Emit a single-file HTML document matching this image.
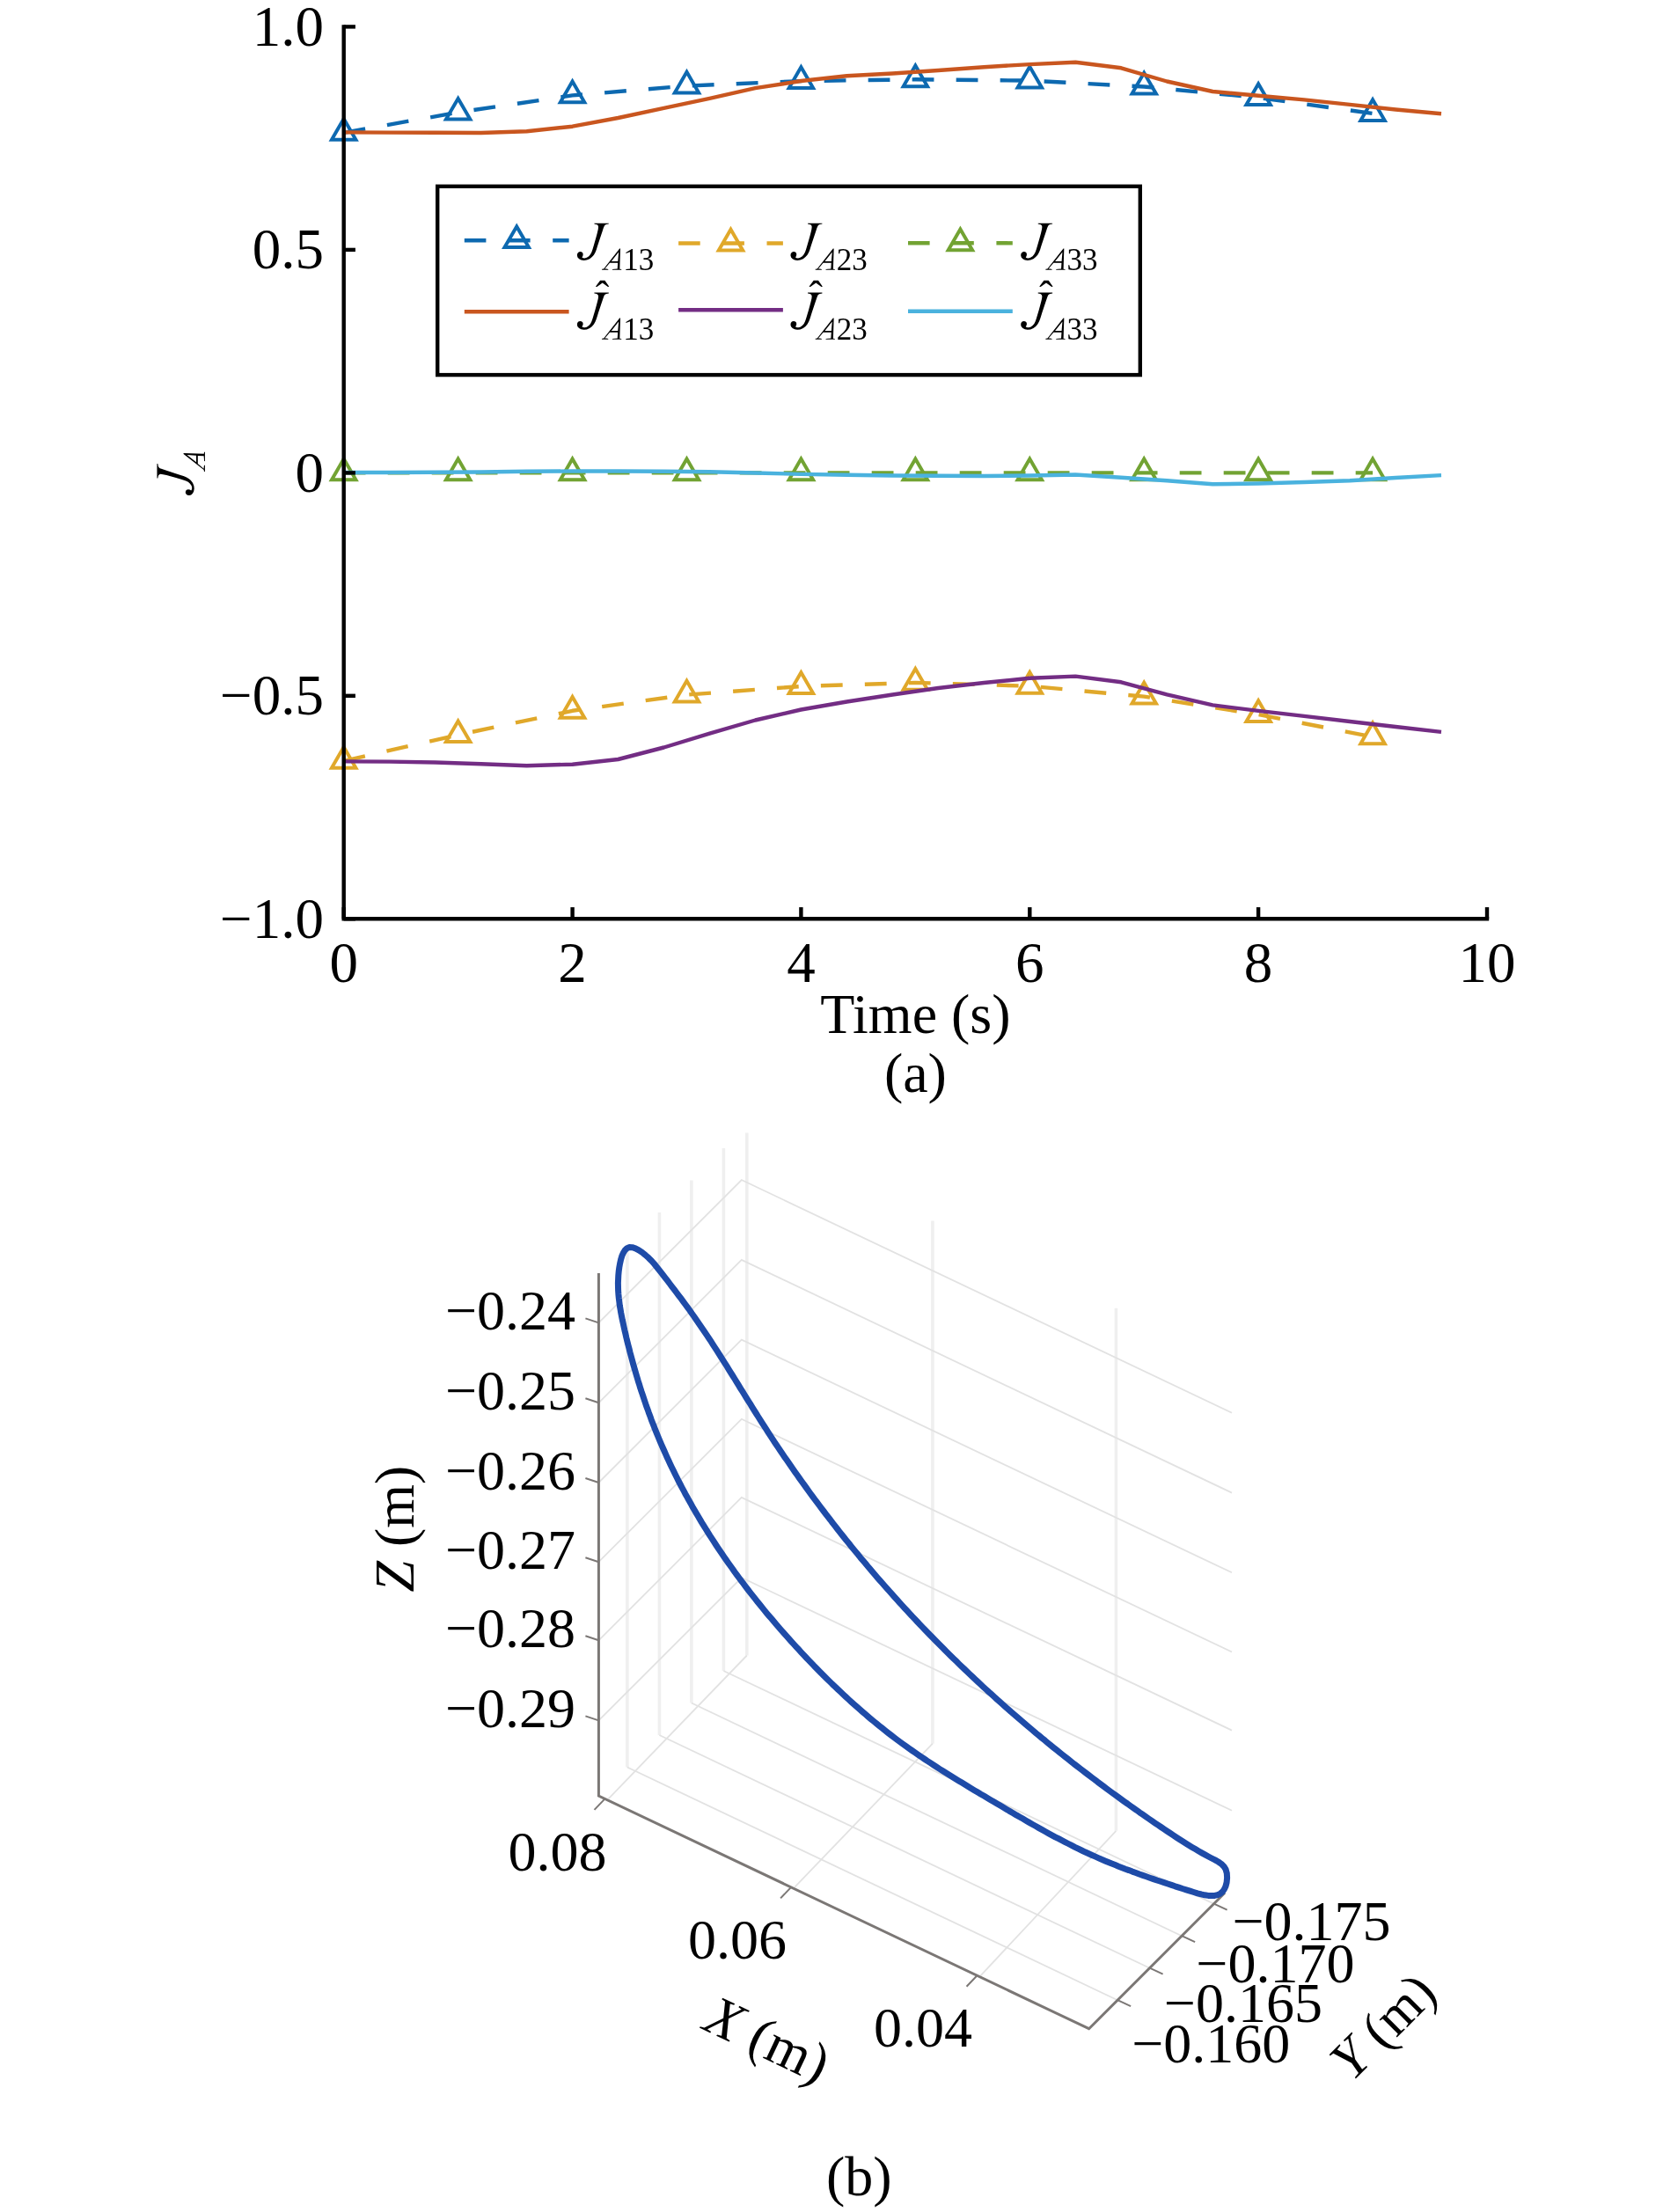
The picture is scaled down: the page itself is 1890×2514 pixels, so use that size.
<!DOCTYPE html><html><head><meta charset="utf-8"><style>html,body{margin:0;padding:0;background:#fff}svg{display:block;will-change:transform}text{font-family:"Liberation Serif",serif;fill:#000;-webkit-font-smoothing:antialiased}.it{font-style:italic}</style></head><body>
<svg width="1890" height="2514" viewBox="0 0 1890 2514">
<polyline points="390.7,150.8 520.6,127.7 650.6,108.4 780.5,97.6 910.4,92.1 1040.4,90.3 1170.3,91.6 1300.2,98.5 1430.1,111.0 1560.1,129.0" fill="none" stroke="#0D69B0" stroke-width="4.4" stroke-dasharray="24.8 25.2" stroke-linejoin="round"/>
<path d="M390.70 135.00L377.00 158.70L404.40 158.70Z" fill="none" stroke="#0D69B0" stroke-width="4.0" stroke-linejoin="miter" stroke-miterlimit="10"/>
<path d="M520.63 111.90L506.93 135.60L534.33 135.60Z" fill="none" stroke="#0D69B0" stroke-width="4.0" stroke-linejoin="miter" stroke-miterlimit="10"/>
<path d="M650.56 92.60L636.86 116.30L664.26 116.30Z" fill="none" stroke="#0D69B0" stroke-width="4.0" stroke-linejoin="miter" stroke-miterlimit="10"/>
<path d="M780.49 81.80L766.79 105.50L794.19 105.50Z" fill="none" stroke="#0D69B0" stroke-width="4.0" stroke-linejoin="miter" stroke-miterlimit="10"/>
<path d="M910.42 76.30L896.72 100.00L924.12 100.00Z" fill="none" stroke="#0D69B0" stroke-width="4.0" stroke-linejoin="miter" stroke-miterlimit="10"/>
<path d="M1040.35 74.50L1026.65 98.20L1054.05 98.20Z" fill="none" stroke="#0D69B0" stroke-width="4.0" stroke-linejoin="miter" stroke-miterlimit="10"/>
<path d="M1170.28 75.80L1156.58 99.50L1183.98 99.50Z" fill="none" stroke="#0D69B0" stroke-width="4.0" stroke-linejoin="miter" stroke-miterlimit="10"/>
<path d="M1300.21 82.70L1286.51 106.40L1313.91 106.40Z" fill="none" stroke="#0D69B0" stroke-width="4.0" stroke-linejoin="miter" stroke-miterlimit="10"/>
<path d="M1430.14 95.20L1416.44 118.90L1443.84 118.90Z" fill="none" stroke="#0D69B0" stroke-width="4.0" stroke-linejoin="miter" stroke-miterlimit="10"/>
<path d="M1560.07 113.20L1546.37 136.90L1573.77 136.90Z" fill="none" stroke="#0D69B0" stroke-width="4.0" stroke-linejoin="miter" stroke-miterlimit="10"/>
<polyline points="390.7,864.8 520.6,835.2 650.6,807.8 780.5,789.6 910.4,780.0 1040.4,775.9 1170.3,779.8 1300.2,791.6 1430.1,812.1 1560.1,837.4" fill="none" stroke="#E0A82A" stroke-width="4.4" stroke-dasharray="24.8 25.2" stroke-linejoin="round"/>
<path d="M390.70 849.00L377.00 872.70L404.40 872.70Z" fill="none" stroke="#E0A82A" stroke-width="4.0" stroke-linejoin="miter" stroke-miterlimit="10"/>
<path d="M520.63 819.40L506.93 843.10L534.33 843.10Z" fill="none" stroke="#E0A82A" stroke-width="4.0" stroke-linejoin="miter" stroke-miterlimit="10"/>
<path d="M650.56 792.00L636.86 815.70L664.26 815.70Z" fill="none" stroke="#E0A82A" stroke-width="4.0" stroke-linejoin="miter" stroke-miterlimit="10"/>
<path d="M780.49 773.80L766.79 797.50L794.19 797.50Z" fill="none" stroke="#E0A82A" stroke-width="4.0" stroke-linejoin="miter" stroke-miterlimit="10"/>
<path d="M910.42 764.20L896.72 787.90L924.12 787.90Z" fill="none" stroke="#E0A82A" stroke-width="4.0" stroke-linejoin="miter" stroke-miterlimit="10"/>
<path d="M1040.35 760.10L1026.65 783.80L1054.05 783.80Z" fill="none" stroke="#E0A82A" stroke-width="4.0" stroke-linejoin="miter" stroke-miterlimit="10"/>
<path d="M1170.28 764.00L1156.58 787.70L1183.98 787.70Z" fill="none" stroke="#E0A82A" stroke-width="4.0" stroke-linejoin="miter" stroke-miterlimit="10"/>
<path d="M1300.21 775.80L1286.51 799.50L1313.91 799.50Z" fill="none" stroke="#E0A82A" stroke-width="4.0" stroke-linejoin="miter" stroke-miterlimit="10"/>
<path d="M1430.14 796.30L1416.44 820.00L1443.84 820.00Z" fill="none" stroke="#E0A82A" stroke-width="4.0" stroke-linejoin="miter" stroke-miterlimit="10"/>
<path d="M1560.07 821.60L1546.37 845.30L1573.77 845.30Z" fill="none" stroke="#E0A82A" stroke-width="4.0" stroke-linejoin="miter" stroke-miterlimit="10"/>
<polyline points="390.7,537.4 520.6,537.4 650.6,537.4 780.5,537.4 910.4,537.4 1040.4,537.4 1170.3,537.4 1300.2,537.4 1430.1,537.4 1560.1,537.4" fill="none" stroke="#72A333" stroke-width="4.4" stroke-dasharray="24.8 25.2" stroke-linejoin="round"/>
<path d="M390.70 521.60L377.00 545.30L404.40 545.30Z" fill="none" stroke="#72A333" stroke-width="4.0" stroke-linejoin="miter" stroke-miterlimit="10"/>
<path d="M520.63 521.60L506.93 545.30L534.33 545.30Z" fill="none" stroke="#72A333" stroke-width="4.0" stroke-linejoin="miter" stroke-miterlimit="10"/>
<path d="M650.56 521.60L636.86 545.30L664.26 545.30Z" fill="none" stroke="#72A333" stroke-width="4.0" stroke-linejoin="miter" stroke-miterlimit="10"/>
<path d="M780.49 521.60L766.79 545.30L794.19 545.30Z" fill="none" stroke="#72A333" stroke-width="4.0" stroke-linejoin="miter" stroke-miterlimit="10"/>
<path d="M910.42 521.60L896.72 545.30L924.12 545.30Z" fill="none" stroke="#72A333" stroke-width="4.0" stroke-linejoin="miter" stroke-miterlimit="10"/>
<path d="M1040.35 521.60L1026.65 545.30L1054.05 545.30Z" fill="none" stroke="#72A333" stroke-width="4.0" stroke-linejoin="miter" stroke-miterlimit="10"/>
<path d="M1170.28 521.60L1156.58 545.30L1183.98 545.30Z" fill="none" stroke="#72A333" stroke-width="4.0" stroke-linejoin="miter" stroke-miterlimit="10"/>
<path d="M1300.21 521.60L1286.51 545.30L1313.91 545.30Z" fill="none" stroke="#72A333" stroke-width="4.0" stroke-linejoin="miter" stroke-miterlimit="10"/>
<path d="M1430.14 521.60L1416.44 545.30L1443.84 545.30Z" fill="none" stroke="#72A333" stroke-width="4.0" stroke-linejoin="miter" stroke-miterlimit="10"/>
<path d="M1560.07 521.60L1546.37 545.30L1573.77 545.30Z" fill="none" stroke="#72A333" stroke-width="4.0" stroke-linejoin="miter" stroke-miterlimit="10"/>
<polyline points="390.7,150.4 442.7,150.6 494.6,150.8 546.6,151.0 598.6,149.2 650.6,143.7 702.5,134.0 754.5,122.8 806.5,111.8 858.4,100.2 910.4,92.0 962.4,86.2 1014.4,83.5 1066.3,80.0 1118.3,76.2 1170.3,73.1 1222.3,70.8 1274.2,77.3 1326.2,92.5 1378.2,104.0 1430.1,108.8 1482.1,113.4 1534.1,118.9 1586.1,124.5 1638.0,129.3" fill="none" stroke="#C9561F" stroke-width="4.4" stroke-linejoin="round"/>
<polyline points="390.7,865.4 442.7,865.6 494.6,866.5 546.6,868.3 598.6,870.2 650.6,868.7 702.5,863.0 754.5,849.5 806.5,833.6 858.4,818.5 910.4,806.5 962.4,797.5 1014.4,789.5 1066.3,782.0 1118.3,776.0 1170.3,770.8 1222.3,768.6 1274.2,775.3 1326.2,789.3 1378.2,801.4 1430.1,807.9 1482.1,813.9 1534.1,820.0 1586.1,826.0 1638.0,831.9" fill="none" stroke="#732D84" stroke-width="4.4" stroke-linejoin="round"/>
<polyline points="390.7,537.0 442.7,537.0 494.6,536.8 546.6,536.5 598.6,535.8 650.6,535.5 702.5,535.5 754.5,535.8 806.5,536.3 858.4,537.5 910.4,538.9 962.4,539.7 1014.4,540.5 1066.3,540.8 1118.3,541.0 1170.3,540.5 1222.3,539.5 1274.2,542.8 1326.2,546.3 1378.2,550.3 1430.1,549.5 1482.1,548.0 1534.1,546.2 1586.1,543.0 1638.0,540.1" fill="none" stroke="#4AB2DE" stroke-width="4.4" stroke-linejoin="round"/>
<path d="M390.7 28.2V1044.3H1692.2" fill="none" stroke="#000" stroke-width="4.4" stroke-linejoin="miter"/>
<line x1="390.7" y1="30.4" x2="403.9" y2="30.4" stroke="#000" stroke-width="4.4"/>
<line x1="390.7" y1="283.9" x2="403.9" y2="283.9" stroke="#000" stroke-width="4.4"/>
<line x1="390.7" y1="537.4" x2="403.9" y2="537.4" stroke="#000" stroke-width="4.4"/>
<line x1="390.7" y1="790.8" x2="403.9" y2="790.8" stroke="#000" stroke-width="4.4"/>
<line x1="390.7" y1="1044.3" x2="403.9" y2="1044.3" stroke="#000" stroke-width="4.4"/>
<line x1="390.7" y1="1044.3" x2="390.7" y2="1031.1" stroke="#000" stroke-width="4.4"/>
<line x1="650.6" y1="1044.3" x2="650.6" y2="1031.1" stroke="#000" stroke-width="4.4"/>
<line x1="910.4" y1="1044.3" x2="910.4" y2="1031.1" stroke="#000" stroke-width="4.4"/>
<line x1="1170.3" y1="1044.3" x2="1170.3" y2="1031.1" stroke="#000" stroke-width="4.4"/>
<line x1="1430.1" y1="1044.3" x2="1430.1" y2="1031.1" stroke="#000" stroke-width="4.4"/>
<line x1="1690.0" y1="1044.3" x2="1690.0" y2="1031.1" stroke="#000" stroke-width="4.4"/>
<text x="368" y="51.8" font-size="65" text-anchor="end">1.0</text>
<text x="368" y="305.3" font-size="65" text-anchor="end">0.5</text>
<text x="368" y="558.8" font-size="65" text-anchor="end">0</text>
<text x="368" y="812.2" font-size="65" text-anchor="end">−0.5</text>
<text x="368" y="1065.7" font-size="65" text-anchor="end">−1.0</text>
<text x="390.7" y="1116.3" font-size="65" text-anchor="middle">0</text>
<text x="650.6" y="1116.3" font-size="65" text-anchor="middle">2</text>
<text x="910.4" y="1116.3" font-size="65" text-anchor="middle">4</text>
<text x="1170.3" y="1116.3" font-size="65" text-anchor="middle">6</text>
<text x="1430.1" y="1116.3" font-size="65" text-anchor="middle">8</text>
<text x="1690.0" y="1116.3" font-size="65" text-anchor="middle">10</text>
<text x="1040.4" y="1174.2" font-size="64" text-anchor="middle">Time (s)</text>
<text x="1040.4" y="1241.3" font-size="64" text-anchor="middle">(a)</text>
<path transform="translate(178.4,563) rotate(-90)" d="M19.51 0.07 L35.89 0.07 L35.95 0.97 L33.19 1.40 L31.68 2.18 L30.84 3.32 L29.88 5.73 L28.68 9.33 L27.17 13.84 L25.67 18.35 L24.17 22.86 L22.96 26.77 L21.91 30.08 L20.71 33.09 L19.05 36.09 L16.95 38.50 L14.24 40.60 L10.94 41.95 L7.63 42.35 L4.62 41.80 L2.22 40.60 L0.56 38.80 L-0.04 36.69 L0.26 34.59 L1.47 33.09 L3.12 32.42 L4.92 32.63 L6.28 33.69 L6.79 35.49 L6.43 37.29 L5.53 38.80 L6.73 39.55 L8.53 39.85 L10.94 39.25 L13.34 37.60 L15.15 35.49 L16.50 32.78 L17.55 29.78 L18.75 25.87 L20.26 20.76 L21.76 15.35 L22.96 10.84 L23.87 6.93 L24.17 4.22 L23.72 2.72 L22.66 1.76 L21.16 1.28 L19.51 0.97Z"/>
<path fill-rule="evenodd" transform="translate(232.9,535.9) rotate(-90)" d="M-0.15 0.04 L7.07 0.04 L7.07 -0.87 L4.97 -1.29 L3.16 -1.29 L8.81 -8.08 L17.95 -8.08 L17.53 -1.29 L14.11 -0.99 L11.82 -0.87 L11.70 0.04 L22.04 0.04 L22.04 -0.87 L20.12 -1.17 L20.84 -24.32 L20.00 -24.32 L1.96 -1.29 L-0.03 -0.93Z M10.62 -9.89 L18.07 -9.89 L18.92 -20.41Z"/>
<rect x="497.2" y="211.8" width="798.6" height="214.3" fill="#fff" stroke="#000" stroke-width="4.4"/>
<line x1="527.8" y1="273.2" x2="646.6" y2="273.2" stroke="#0D69B0" stroke-width="4.4" stroke-dasharray="24.6 25.6"/>
<path d="M587.20 257.40L573.50 281.10L600.90 281.10Z" fill="none" stroke="#0D69B0" stroke-width="4.0" stroke-linejoin="miter" stroke-miterlimit="10"/>
<line x1="527.8" y1="354.3" x2="646.6" y2="354.3" stroke="#C9561F" stroke-width="4.4"/>
<path transform="translate(655.9,253.6)" d="M19.51 0.07 L35.89 0.07 L35.95 0.97 L33.19 1.40 L31.68 2.18 L30.84 3.32 L29.88 5.73 L28.68 9.33 L27.17 13.84 L25.67 18.35 L24.17 22.86 L22.96 26.77 L21.91 30.08 L20.71 33.09 L19.05 36.09 L16.95 38.50 L14.24 40.60 L10.94 41.95 L7.63 42.35 L4.62 41.80 L2.22 40.60 L0.56 38.80 L-0.04 36.69 L0.26 34.59 L1.47 33.09 L3.12 32.42 L4.92 32.63 L6.28 33.69 L6.79 35.49 L6.43 37.29 L5.53 38.80 L6.73 39.55 L8.53 39.85 L10.94 39.25 L13.34 37.60 L15.15 35.49 L16.50 32.78 L17.55 29.78 L18.75 25.87 L20.26 20.76 L21.76 15.35 L22.96 10.84 L23.87 6.93 L24.17 4.22 L23.72 2.72 L22.66 1.76 L21.16 1.28 L19.51 0.97Z"/>
<path fill-rule="evenodd" transform="translate(684.2,306.8)" d="M-0.15 0.04 L7.07 0.04 L7.07 -0.87 L4.97 -1.29 L3.16 -1.29 L8.81 -8.08 L17.95 -8.08 L17.53 -1.29 L14.11 -0.99 L11.82 -0.87 L11.70 0.04 L22.04 0.04 L22.04 -0.87 L20.12 -1.17 L20.84 -24.32 L20.00 -24.32 L1.96 -1.29 L-0.03 -0.93Z M10.62 -9.89 L18.07 -9.89 L18.92 -20.41Z"/>
<text x="708.2" y="306.8" font-size="35">13</text>
<path transform="translate(655.9,332.5)" d="M19.51 0.07 L35.89 0.07 L35.95 0.97 L33.19 1.40 L31.68 2.18 L30.84 3.32 L29.88 5.73 L28.68 9.33 L27.17 13.84 L25.67 18.35 L24.17 22.86 L22.96 26.77 L21.91 30.08 L20.71 33.09 L19.05 36.09 L16.95 38.50 L14.24 40.60 L10.94 41.95 L7.63 42.35 L4.62 41.80 L2.22 40.60 L0.56 38.80 L-0.04 36.69 L0.26 34.59 L1.47 33.09 L3.12 32.42 L4.92 32.63 L6.28 33.69 L6.79 35.49 L6.43 37.29 L5.53 38.80 L6.73 39.55 L8.53 39.85 L10.94 39.25 L13.34 37.60 L15.15 35.49 L16.50 32.78 L17.55 29.78 L18.75 25.87 L20.26 20.76 L21.76 15.35 L22.96 10.84 L23.87 6.93 L24.17 4.22 L23.72 2.72 L22.66 1.76 L21.16 1.28 L19.51 0.97Z"/>
<path transform="translate(655.9,332.5)" d="M21.0 -6.7 L26.2 -13.7 L31.5 -13.7 L36.4 -6.7 L35.0 -6.4 L28.8 -11.0 L22.5 -6.4 Z"/>
<path fill-rule="evenodd" transform="translate(684.2,385.8)" d="M-0.15 0.04 L7.07 0.04 L7.07 -0.87 L4.97 -1.29 L3.16 -1.29 L8.81 -8.08 L17.95 -8.08 L17.53 -1.29 L14.11 -0.99 L11.82 -0.87 L11.70 0.04 L22.04 0.04 L22.04 -0.87 L20.12 -1.17 L20.84 -24.32 L20.00 -24.32 L1.96 -1.29 L-0.03 -0.93Z M10.62 -9.89 L18.07 -9.89 L18.92 -20.41Z"/>
<text x="708.2" y="385.8" font-size="35">13</text>
<line x1="771.1" y1="276.5" x2="889.9" y2="276.5" stroke="#E0A82A" stroke-width="4.4" stroke-dasharray="24.6 25.6"/>
<path d="M830.50 260.70L816.80 284.40L844.20 284.40Z" fill="none" stroke="#E0A82A" stroke-width="4.0" stroke-linejoin="miter" stroke-miterlimit="10"/>
<line x1="771.1" y1="352.3" x2="889.9" y2="352.3" stroke="#732D84" stroke-width="4.4"/>
<path transform="translate(898.5,253.6)" d="M19.51 0.07 L35.89 0.07 L35.95 0.97 L33.19 1.40 L31.68 2.18 L30.84 3.32 L29.88 5.73 L28.68 9.33 L27.17 13.84 L25.67 18.35 L24.17 22.86 L22.96 26.77 L21.91 30.08 L20.71 33.09 L19.05 36.09 L16.95 38.50 L14.24 40.60 L10.94 41.95 L7.63 42.35 L4.62 41.80 L2.22 40.60 L0.56 38.80 L-0.04 36.69 L0.26 34.59 L1.47 33.09 L3.12 32.42 L4.92 32.63 L6.28 33.69 L6.79 35.49 L6.43 37.29 L5.53 38.80 L6.73 39.55 L8.53 39.85 L10.94 39.25 L13.34 37.60 L15.15 35.49 L16.50 32.78 L17.55 29.78 L18.75 25.87 L20.26 20.76 L21.76 15.35 L22.96 10.84 L23.87 6.93 L24.17 4.22 L23.72 2.72 L22.66 1.76 L21.16 1.28 L19.51 0.97Z"/>
<path fill-rule="evenodd" transform="translate(926.8,306.8)" d="M-0.15 0.04 L7.07 0.04 L7.07 -0.87 L4.97 -1.29 L3.16 -1.29 L8.81 -8.08 L17.95 -8.08 L17.53 -1.29 L14.11 -0.99 L11.82 -0.87 L11.70 0.04 L22.04 0.04 L22.04 -0.87 L20.12 -1.17 L20.84 -24.32 L20.00 -24.32 L1.96 -1.29 L-0.03 -0.93Z M10.62 -9.89 L18.07 -9.89 L18.92 -20.41Z"/>
<text x="950.8" y="306.8" font-size="35">23</text>
<path transform="translate(898.5,332.5)" d="M19.51 0.07 L35.89 0.07 L35.95 0.97 L33.19 1.40 L31.68 2.18 L30.84 3.32 L29.88 5.73 L28.68 9.33 L27.17 13.84 L25.67 18.35 L24.17 22.86 L22.96 26.77 L21.91 30.08 L20.71 33.09 L19.05 36.09 L16.95 38.50 L14.24 40.60 L10.94 41.95 L7.63 42.35 L4.62 41.80 L2.22 40.60 L0.56 38.80 L-0.04 36.69 L0.26 34.59 L1.47 33.09 L3.12 32.42 L4.92 32.63 L6.28 33.69 L6.79 35.49 L6.43 37.29 L5.53 38.80 L6.73 39.55 L8.53 39.85 L10.94 39.25 L13.34 37.60 L15.15 35.49 L16.50 32.78 L17.55 29.78 L18.75 25.87 L20.26 20.76 L21.76 15.35 L22.96 10.84 L23.87 6.93 L24.17 4.22 L23.72 2.72 L22.66 1.76 L21.16 1.28 L19.51 0.97Z"/>
<path transform="translate(898.5,332.5)" d="M21.0 -6.7 L26.2 -13.7 L31.5 -13.7 L36.4 -6.7 L35.0 -6.4 L28.8 -11.0 L22.5 -6.4 Z"/>
<path fill-rule="evenodd" transform="translate(926.8,385.8)" d="M-0.15 0.04 L7.07 0.04 L7.07 -0.87 L4.97 -1.29 L3.16 -1.29 L8.81 -8.08 L17.95 -8.08 L17.53 -1.29 L14.11 -0.99 L11.82 -0.87 L11.70 0.04 L22.04 0.04 L22.04 -0.87 L20.12 -1.17 L20.84 -24.32 L20.00 -24.32 L1.96 -1.29 L-0.03 -0.93Z M10.62 -9.89 L18.07 -9.89 L18.92 -20.41Z"/>
<text x="950.8" y="385.8" font-size="35">23</text>
<line x1="1032.0" y1="276.3" x2="1150.8" y2="276.3" stroke="#72A333" stroke-width="4.4" stroke-dasharray="24.6 25.6"/>
<path d="M1091.40 260.50L1077.70 284.20L1105.10 284.20Z" fill="none" stroke="#72A333" stroke-width="4.0" stroke-linejoin="miter" stroke-miterlimit="10"/>
<line x1="1032.0" y1="353.7" x2="1150.8" y2="353.7" stroke="#4AB2DE" stroke-width="4.4"/>
<path transform="translate(1160.2,253.6)" d="M19.51 0.07 L35.89 0.07 L35.95 0.97 L33.19 1.40 L31.68 2.18 L30.84 3.32 L29.88 5.73 L28.68 9.33 L27.17 13.84 L25.67 18.35 L24.17 22.86 L22.96 26.77 L21.91 30.08 L20.71 33.09 L19.05 36.09 L16.95 38.50 L14.24 40.60 L10.94 41.95 L7.63 42.35 L4.62 41.80 L2.22 40.60 L0.56 38.80 L-0.04 36.69 L0.26 34.59 L1.47 33.09 L3.12 32.42 L4.92 32.63 L6.28 33.69 L6.79 35.49 L6.43 37.29 L5.53 38.80 L6.73 39.55 L8.53 39.85 L10.94 39.25 L13.34 37.60 L15.15 35.49 L16.50 32.78 L17.55 29.78 L18.75 25.87 L20.26 20.76 L21.76 15.35 L22.96 10.84 L23.87 6.93 L24.17 4.22 L23.72 2.72 L22.66 1.76 L21.16 1.28 L19.51 0.97Z"/>
<path fill-rule="evenodd" transform="translate(1188.5,306.8)" d="M-0.15 0.04 L7.07 0.04 L7.07 -0.87 L4.97 -1.29 L3.16 -1.29 L8.81 -8.08 L17.95 -8.08 L17.53 -1.29 L14.11 -0.99 L11.82 -0.87 L11.70 0.04 L22.04 0.04 L22.04 -0.87 L20.12 -1.17 L20.84 -24.32 L20.00 -24.32 L1.96 -1.29 L-0.03 -0.93Z M10.62 -9.89 L18.07 -9.89 L18.92 -20.41Z"/>
<text x="1212.5" y="306.8" font-size="35">33</text>
<path transform="translate(1160.2,332.5)" d="M19.51 0.07 L35.89 0.07 L35.95 0.97 L33.19 1.40 L31.68 2.18 L30.84 3.32 L29.88 5.73 L28.68 9.33 L27.17 13.84 L25.67 18.35 L24.17 22.86 L22.96 26.77 L21.91 30.08 L20.71 33.09 L19.05 36.09 L16.95 38.50 L14.24 40.60 L10.94 41.95 L7.63 42.35 L4.62 41.80 L2.22 40.60 L0.56 38.80 L-0.04 36.69 L0.26 34.59 L1.47 33.09 L3.12 32.42 L4.92 32.63 L6.28 33.69 L6.79 35.49 L6.43 37.29 L5.53 38.80 L6.73 39.55 L8.53 39.85 L10.94 39.25 L13.34 37.60 L15.15 35.49 L16.50 32.78 L17.55 29.78 L18.75 25.87 L20.26 20.76 L21.76 15.35 L22.96 10.84 L23.87 6.93 L24.17 4.22 L23.72 2.72 L22.66 1.76 L21.16 1.28 L19.51 0.97Z"/>
<path transform="translate(1160.2,332.5)" d="M21.0 -6.7 L26.2 -13.7 L31.5 -13.7 L36.4 -6.7 L35.0 -6.4 L28.8 -11.0 L22.5 -6.4 Z"/>
<path fill-rule="evenodd" transform="translate(1188.5,385.8)" d="M-0.15 0.04 L7.07 0.04 L7.07 -0.87 L4.97 -1.29 L3.16 -1.29 L8.81 -8.08 L17.95 -8.08 L17.53 -1.29 L14.11 -0.99 L11.82 -0.87 L11.70 0.04 L22.04 0.04 L22.04 -0.87 L20.12 -1.17 L20.84 -24.32 L20.00 -24.32 L1.96 -1.29 L-0.03 -0.93Z M10.62 -9.89 L18.07 -9.89 L18.92 -20.41Z"/>
<text x="1212.5" y="385.8" font-size="35">33</text>
<line x1="712.9" y1="2008.5" x2="712.9" y2="1414.4" stroke="#efefef" stroke-width="3.6"/>
<line x1="749.4" y1="1972.0" x2="749.4" y2="1377.9" stroke="#efefef" stroke-width="3.6"/>
<line x1="785.9" y1="1935.5" x2="785.9" y2="1341.4" stroke="#efefef" stroke-width="3.6"/>
<line x1="822.4" y1="1899.0" x2="822.4" y2="1304.9" stroke="#efefef" stroke-width="3.6"/>
<line x1="848.8" y1="1881.5" x2="848.8" y2="1287.4" stroke="#efefef" stroke-width="3.6"/>
<line x1="1059.9" y1="1981.7" x2="1059.9" y2="1387.6" stroke="#efefef" stroke-width="3.6"/>
<line x1="1268.4" y1="2080.8" x2="1268.4" y2="1486.7" stroke="#efefef" stroke-width="3.6"/>
<polyline points="680.4,1503.4 842.8,1341.0 1400.0,1605.7" fill="none" stroke="#e2e2e2" stroke-width="1.8"/>
<polyline points="680.4,1594.3 842.8,1431.9 1400.0,1696.6" fill="none" stroke="#e2e2e2" stroke-width="1.8"/>
<polyline points="680.4,1685.0 842.8,1522.6 1400.0,1787.3" fill="none" stroke="#e2e2e2" stroke-width="1.8"/>
<polyline points="680.4,1775.2 842.8,1612.8 1400.0,1877.5" fill="none" stroke="#e2e2e2" stroke-width="1.8"/>
<polyline points="680.4,1864.3 842.8,1701.9 1400.0,1966.6" fill="none" stroke="#e2e2e2" stroke-width="1.8"/>
<polyline points="680.4,1955.4 842.8,1793.0 1400.0,2057.7" fill="none" stroke="#e2e2e2" stroke-width="1.8"/>
<line x1="712.9" y1="2008.5" x2="1270.1" y2="2273.2" stroke="#e2e2e2" stroke-width="1.8"/>
<line x1="749.4" y1="1972.0" x2="1306.6" y2="2236.7" stroke="#e2e2e2" stroke-width="1.8"/>
<line x1="785.9" y1="1935.5" x2="1343.1" y2="2200.2" stroke="#e2e2e2" stroke-width="1.8"/>
<line x1="822.4" y1="1899.0" x2="1379.6" y2="2163.7" stroke="#e2e2e2" stroke-width="1.8"/>
<line x1="691.5" y1="2044.4" x2="848.8" y2="1881.5" stroke="#e2e2e2" stroke-width="1.8"/>
<line x1="903.1" y1="2144.9" x2="1059.9" y2="1981.7" stroke="#e2e2e2" stroke-width="1.8"/>
<line x1="1114.5" y1="2245.3" x2="1268.4" y2="2080.8" stroke="#e2e2e2" stroke-width="1.8"/>
<path d="M680.4 1446.9V2041.0L1237.6 2305.7L1392.0 2151.3" fill="none" stroke="#7b7775" stroke-width="3" stroke-linejoin="miter"/>
<line x1="680.4" y1="1503.4" x2="665.4" y2="1498.4" stroke="#7b7775" stroke-width="2"/>
<line x1="680.4" y1="1594.3" x2="665.4" y2="1589.3" stroke="#7b7775" stroke-width="2"/>
<line x1="680.4" y1="1685.0" x2="665.4" y2="1680.0" stroke="#7b7775" stroke-width="2"/>
<line x1="680.4" y1="1775.2" x2="665.4" y2="1770.2" stroke="#7b7775" stroke-width="2"/>
<line x1="680.4" y1="1864.3" x2="665.4" y2="1859.3" stroke="#7b7775" stroke-width="2"/>
<line x1="680.4" y1="1955.4" x2="665.4" y2="1950.4" stroke="#7b7775" stroke-width="2"/>
<line x1="687.5" y1="2044.4" x2="675.5" y2="2056.9" stroke="#7b7775" stroke-width="2"/>
<line x1="899.1" y1="2144.9" x2="887.1" y2="2157.4" stroke="#7b7775" stroke-width="2"/>
<line x1="1110.5" y1="2245.3" x2="1098.5" y2="2257.8" stroke="#7b7775" stroke-width="2"/>
<line x1="1270.1" y1="2273.2" x2="1285.1" y2="2280.2" stroke="#7b7775" stroke-width="2"/>
<line x1="1306.6" y1="2236.7" x2="1321.6" y2="2243.7" stroke="#7b7775" stroke-width="2"/>
<line x1="1343.1" y1="2200.2" x2="1358.1" y2="2207.2" stroke="#7b7775" stroke-width="2"/>
<line x1="1379.6" y1="2163.7" x2="1394.6" y2="2170.7" stroke="#7b7775" stroke-width="2"/>
<polygon points="715.4,1417.6 718.6,1417.7 722.2,1418.8 726.0,1420.8 729.8,1423.4 733.6,1426.5 737.2,1429.7 740.5,1433.0 743.4,1436.3 746.0,1439.5 748.6,1442.7 751.1,1445.9 753.6,1449.2 756.1,1452.4 758.7,1455.7 761.2,1459.0 763.7,1462.3 766.3,1465.6 768.8,1469.0 771.3,1472.3 773.9,1475.7 776.4,1479.1 778.9,1482.5 781.4,1485.9 783.9,1489.3 786.3,1492.8 788.8,1496.2 791.2,1499.7 793.6,1503.2 796.0,1506.7 798.4,1510.2 800.8,1513.7 803.1,1517.2 805.5,1520.7 807.8,1524.2 810.1,1527.8 812.4,1531.3 814.7,1534.9 816.9,1538.4 819.2,1542.0 821.5,1545.6 823.7,1549.1 826.0,1552.7 828.2,1556.3 830.4,1559.9 832.7,1563.5 834.9,1567.0 837.1,1570.6 839.3,1574.2 841.5,1577.8 843.8,1581.4 846.0,1585.0 848.2,1588.6 850.4,1592.1 852.7,1595.7 854.9,1599.3 857.1,1602.9 859.4,1606.5 861.6,1610.0 863.9,1613.6 866.1,1617.1 868.4,1620.7 870.7,1624.2 873.0,1627.8 875.3,1631.3 877.6,1634.8 879.9,1638.4 882.3,1641.9 884.6,1645.4 887.0,1648.9 889.3,1652.4 891.7,1655.9 894.1,1659.3 896.5,1662.8 898.9,1666.3 901.3,1669.7 903.7,1673.2 906.1,1676.6 908.6,1680.1 911.0,1683.5 913.5,1686.9 916.0,1690.4 918.4,1693.8 920.9,1697.2 923.4,1700.6 925.9,1704.0 928.5,1707.4 931.0,1710.8 933.5,1714.1 936.1,1717.5 938.6,1720.8 941.2,1724.2 943.8,1727.5 946.3,1730.9 948.9,1734.2 951.5,1737.5 954.1,1740.8 956.8,1744.2 959.4,1747.5 962.0,1750.8 964.7,1754.0 967.3,1757.3 970.0,1760.6 972.7,1763.9 975.4,1767.1 978.0,1770.4 980.7,1773.6 983.5,1776.8 986.2,1780.1 988.9,1783.3 991.6,1786.5 994.4,1789.7 997.1,1792.9 999.9,1796.1 1002.7,1799.3 1005.5,1802.5 1008.3,1805.6 1011.1,1808.8 1013.9,1811.9 1016.7,1815.1 1019.5,1818.2 1022.3,1821.3 1025.2,1824.5 1028.0,1827.6 1030.9,1830.7 1033.8,1833.8 1036.6,1836.9 1039.5,1839.9 1042.4,1843.0 1045.3,1846.1 1048.2,1849.1 1051.2,1852.2 1054.1,1855.2 1057.0,1858.2 1060.0,1861.3 1062.9,1864.3 1065.9,1867.3 1068.9,1870.3 1071.9,1873.3 1074.8,1876.3 1077.8,1879.2 1080.8,1882.2 1083.9,1885.2 1086.9,1888.1 1089.9,1891.1 1092.9,1894.0 1096.0,1896.9 1099.0,1899.8 1102.1,1902.7 1105.2,1905.6 1108.2,1908.5 1111.3,1911.4 1114.4,1914.3 1117.5,1917.2 1120.6,1920.0 1123.7,1922.9 1126.9,1925.7 1130.0,1928.5 1133.1,1931.4 1136.3,1934.2 1139.4,1937.0 1142.6,1939.8 1145.8,1942.6 1148.9,1945.4 1152.1,1948.1 1155.3,1950.9 1158.5,1953.7 1161.7,1956.4 1164.9,1959.2 1168.1,1961.9 1171.4,1964.6 1174.6,1967.3 1177.8,1970.1 1181.1,1972.8 1184.3,1975.5 1187.6,1978.1 1190.8,1980.8 1194.1,1983.5 1197.4,1986.2 1200.7,1988.8 1204.0,1991.4 1207.3,1994.1 1210.6,1996.7 1213.9,1999.3 1217.2,2001.9 1220.5,2004.6 1223.8,2007.1 1227.2,2009.7 1230.5,2012.3 1233.9,2014.9 1237.2,2017.4 1240.6,2020.0 1244.0,2022.5 1247.3,2025.1 1250.7,2027.6 1254.1,2030.1 1257.5,2032.7 1260.9,2035.2 1264.3,2037.7 1267.7,2040.1 1271.1,2042.6 1274.5,2045.1 1277.9,2047.6 1281.4,2050.0 1284.8,2052.5 1288.2,2054.9 1291.7,2057.3 1295.1,2059.8 1298.6,2062.2 1302.1,2064.6 1305.5,2067.0 1309.0,2069.4 1312.5,2071.8 1316.0,2074.1 1319.5,2076.5 1323.0,2078.9 1326.5,2081.2 1330.0,2083.5 1333.5,2085.9 1337.0,2088.2 1340.5,2090.5 1344.1,2092.8 1347.6,2095.0 1351.2,2097.2 1354.8,2099.4 1358.5,2101.6 1362.1,2103.8 1365.8,2105.9 1369.5,2107.9 1373.3,2110.0 1377.1,2112.0 1380.9,2113.9 1384.6,2116.0 1388.0,2118.3 1390.9,2121.2 1393.1,2124.7 1394.3,2129.0 1394.6,2134.2 1394.1,2139.5 1392.9,2144.0 1391.2,2147.5 1389.1,2150.3 1386.6,2152.3 1383.7,2153.7 1380.5,2154.4 1377.0,2154.6 1373.2,2154.4 1369.3,2153.8 1365.2,2152.9 1361.0,2151.8 1356.7,2150.5 1352.4,2149.1 1348.2,2147.8 1343.9,2146.5 1339.7,2145.1 1335.5,2143.8 1331.4,2142.4 1327.2,2141.0 1323.1,2139.7 1319.0,2138.3 1314.9,2137.0 1310.9,2135.6 1306.8,2134.2 1302.8,2132.8 1298.8,2131.4 1294.8,2130.0 1290.9,2128.5 1286.9,2127.1 1283.0,2125.6 1279.1,2124.2 1275.2,2122.7 1271.3,2121.2 1267.4,2119.6 1263.5,2118.1 1259.7,2116.5 1255.9,2114.9 1252.0,2113.3 1248.2,2111.6 1244.4,2109.9 1240.6,2108.2 1236.8,2106.5 1233.0,2104.8 1229.3,2103.0 1225.5,2101.1 1221.7,2099.3 1218.0,2097.4 1214.3,2095.5 1210.5,2093.6 1206.8,2091.7 1203.1,2089.7 1199.3,2087.8 1195.6,2085.8 1191.9,2083.8 1188.2,2081.7 1184.5,2079.7 1180.8,2077.6 1177.2,2075.5 1173.5,2073.5 1169.8,2071.4 1166.1,2069.2 1162.5,2067.1 1158.8,2065.0 1155.1,2062.9 1151.5,2060.7 1147.8,2058.6 1144.1,2056.4 1140.5,2054.3 1136.8,2052.1 1133.2,2050.0 1129.5,2047.8 1125.9,2045.7 1122.2,2043.5 1118.6,2041.3 1114.9,2039.2 1111.3,2037.0 1107.7,2034.9 1104.0,2032.7 1100.4,2030.5 1096.8,2028.3 1093.2,2026.1 1089.6,2023.9 1086.0,2021.7 1082.4,2019.5 1078.8,2017.3 1075.2,2015.1 1071.6,2012.8 1068.1,2010.6 1064.5,2008.3 1061.0,2006.0 1057.5,2003.7 1053.9,2001.4 1050.4,1999.0 1046.9,1996.7 1043.5,1994.3 1040.0,1991.9 1036.5,1989.5 1033.1,1987.1 1029.7,1984.7 1026.3,1982.2 1022.9,1979.7 1019.5,1977.2 1016.2,1974.7 1012.8,1972.1 1009.5,1969.6 1006.2,1967.0 1002.9,1964.3 999.6,1961.7 996.3,1959.0 993.1,1956.4 989.8,1953.7 986.6,1951.0 983.4,1948.2 980.2,1945.5 977.0,1942.7 973.9,1939.9 970.7,1937.1 967.6,1934.3 964.5,1931.5 961.4,1928.6 958.3,1925.7 955.2,1922.8 952.1,1919.9 949.1,1917.0 946.0,1914.1 943.0,1911.1 940.0,1908.2 937.0,1905.2 934.0,1902.2 931.0,1899.2 928.1,1896.2 925.1,1893.2 922.2,1890.1 919.3,1887.1 916.3,1884.0 913.4,1880.9 910.5,1877.8 907.7,1874.7 904.8,1871.6 902.0,1868.5 899.1,1865.3 896.3,1862.2 893.5,1859.0 890.7,1855.9 887.9,1852.7 885.1,1849.5 882.3,1846.3 879.6,1843.1 876.9,1839.8 874.1,1836.6 871.4,1833.4 868.7,1830.1 866.1,1826.8 863.4,1823.5 860.7,1820.2 858.1,1816.9 855.5,1813.6 852.9,1810.3 850.3,1807.0 847.7,1803.6 845.2,1800.2 842.6,1796.9 840.1,1793.5 837.6,1790.1 835.1,1786.7 832.7,1783.2 830.2,1779.8 827.8,1776.4 825.3,1772.9 822.9,1769.4 820.6,1766.0 818.2,1762.5 815.8,1759.0 813.5,1755.5 811.2,1751.9 808.9,1748.4 806.6,1744.9 804.4,1741.3 802.1,1737.7 799.9,1734.1 797.7,1730.6 795.5,1726.9 793.4,1723.3 791.2,1719.7 789.1,1716.1 787.0,1712.4 785.0,1708.7 782.9,1705.1 780.9,1701.4 778.8,1697.7 776.9,1694.0 774.9,1690.3 772.9,1686.5 771.0,1682.8 769.1,1679.0 767.2,1675.2 765.4,1671.5 763.5,1667.7 761.7,1663.9 759.9,1660.1 758.1,1656.2 756.4,1652.4 754.7,1648.5 753.0,1644.7 751.3,1640.8 749.6,1636.9 748.0,1633.0 746.4,1629.1 744.8,1625.2 743.3,1621.3 741.7,1617.3 740.2,1613.4 738.8,1609.4 737.3,1605.4 735.9,1601.4 734.4,1597.5 733.1,1593.5 731.7,1589.4 730.4,1585.4 729.0,1581.4 727.7,1577.4 726.5,1573.3 725.2,1569.3 724.0,1565.3 722.8,1561.2 721.6,1557.1 720.4,1553.1 719.3,1549.0 718.2,1544.9 717.1,1540.9 716.0,1536.8 715.0,1532.7 713.9,1528.6 712.9,1524.6 711.9,1520.5 711.0,1516.4 710.0,1512.3 709.1,1508.2 708.2,1504.1 707.3,1500.1 706.5,1496.0 705.7,1491.9 705.0,1487.7 704.3,1483.6 703.8,1479.4 703.3,1475.3 702.9,1471.1 702.6,1466.8 702.5,1462.5 702.4,1458.2 702.6,1453.9 702.8,1449.5 703.2,1445.0 703.8,1440.5 704.6,1436.0 705.6,1431.5 706.8,1427.4 708.4,1423.8 710.3,1420.8 712.6,1418.7 715.4,1417.6" fill="none" stroke="#1e4ba8" stroke-width="7" stroke-linejoin="round"/>
<text x="654" y="1511.0" font-size="64" text-anchor="end">−0.24</text>
<text x="654" y="1601.9" font-size="64" text-anchor="end">−0.25</text>
<text x="654" y="1692.6" font-size="64" text-anchor="end">−0.26</text>
<text x="654" y="1782.8" font-size="64" text-anchor="end">−0.27</text>
<text x="654" y="1871.9" font-size="64" text-anchor="end">−0.28</text>
<text x="654" y="1963.0" font-size="64" text-anchor="end">−0.29</text>
<text x="689.5" y="2125.8" font-size="64" text-anchor="end">0.08</text>
<text x="893.9" y="2226.4" font-size="64" text-anchor="end">0.06</text>
<text x="1105.1" y="2326.3" font-size="64" text-anchor="end">0.04</text>
<text x="1400.5" y="2205.0" font-size="64">−0.175</text>
<text x="1359.3" y="2252.5" font-size="64">−0.170</text>
<text x="1322.8" y="2298.2" font-size="64">−0.165</text>
<text x="1286.2" y="2344.0" font-size="64">−0.160</text>
<g transform="translate(470,1737.6) rotate(-90)"><text x="0" y="0" font-size="64" text-anchor="middle"><tspan class="it">Z</tspan> (m)</text></g>
<g transform="translate(872,2319) rotate(25.4)"><text x="0" y="20" font-size="64" text-anchor="middle"><tspan class="it">X</tspan> (m)</text></g>
<g transform="translate(1572,2303) rotate(-45)"><text x="0" y="20" font-size="62" text-anchor="middle"><tspan class="it">Y</tspan> (m)</text></g>
<text x="976.3" y="2495.2" font-size="64" text-anchor="middle">(b)</text>
</svg></body></html>
